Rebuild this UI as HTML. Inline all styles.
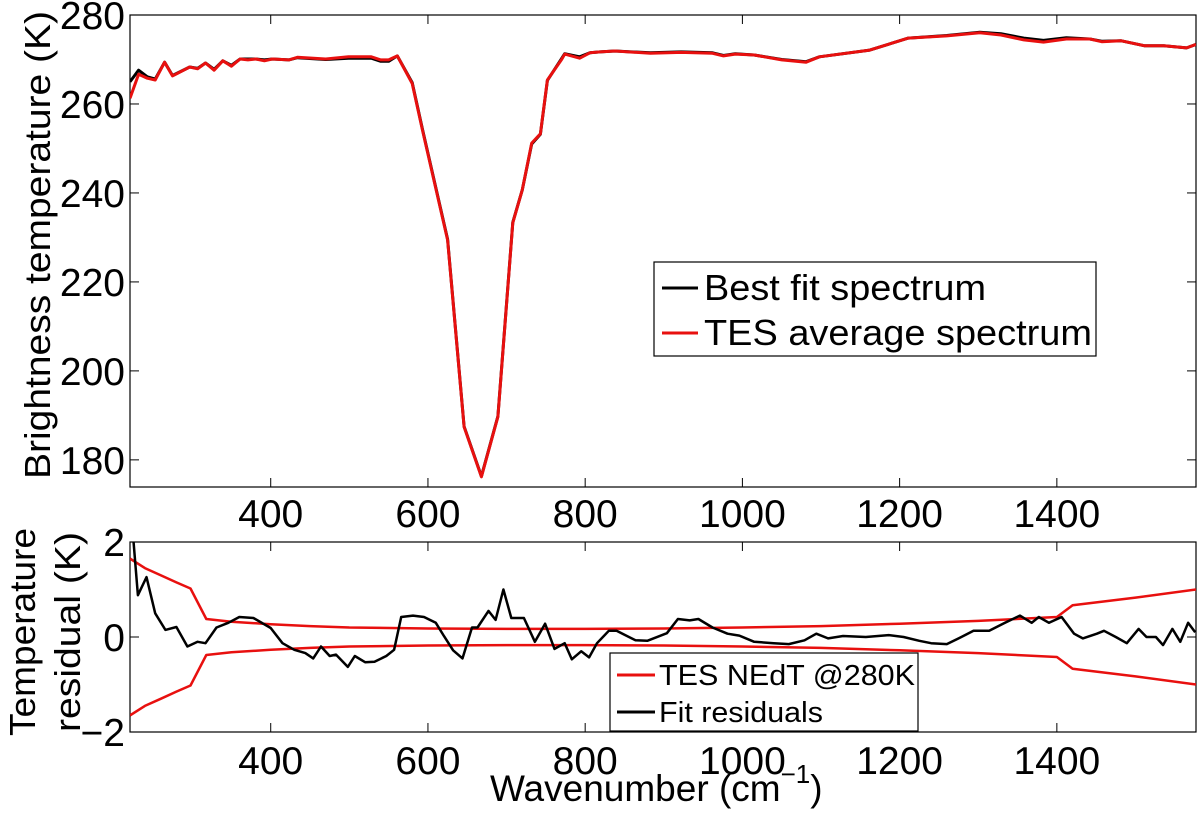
<!DOCTYPE html>
<html><head><meta charset="utf-8"><style>
html,body{margin:0;padding:0;background:#fff;}
svg{display:block;font-family:"Liberation Sans",sans-serif;}
</style></head><body>
<svg id="chart" width="1200" height="813" viewBox="0 0 1200 813"></svg>
<script>
// ---- data ----
const topWn = [221,232,243,253,265,275,297,307,317,328,339,350,361,371,381,392,402,423,434,470,499,528,540,550,561,580,593,625,646,668,689,708,720,732,743,752,770,774,793,806,819,838,883,922,962,976,991,1015,1050,1081,1098,1162,1211,1260,1302,1329,1358,1383,1412,1442,1457,1482,1511,1536,1565,1577];
const tesAvg = [261.3,266.7,265.8,265.4,269.4,266.3,268.3,267.9,269.2,267.6,269.7,268.5,270.1,269.9,270.1,269.7,270.1,269.9,270.5,270.1,270.6,270.6,269.9,269.9,270.8,264.6,254.2,229.4,187.4,176.2,189.7,233.3,240.7,251.2,253.3,265.4,270.0,271.2,270.3,271.5,271.7,271.9,271.4,271.6,271.4,270.8,271.2,271.0,269.9,269.4,270.6,272.1,274.8,275.3,276.0,275.5,274.4,273.9,274.6,274.6,274.0,274.2,273.1,273.1,272.6,273.4];
const bestFit = [265.0,267.6,266.1,265.6,269.4,266.4,268.3,268.0,269.2,267.8,269.7,268.7,270.1,270.1,270.1,269.9,270.1,269.9,270.4,270.0,270.3,270.3,269.6,269.6,270.8,264.8,254.4,229.6,187.5,176.3,189.8,233.4,240.7,251.0,253.2,265.3,270.2,271.3,270.6,271.5,271.7,271.9,271.5,271.7,271.5,270.9,271.3,271.0,270.0,269.5,270.6,272.1,274.8,275.4,276.1,275.8,274.8,274.3,274.9,274.6,274.1,274.2,273.1,273.1,272.6,273.4];
const resWn = [224,231,242,253,266,280,294,307,317,331,346,360,378,400,415,430,444,454,464,475,483,498,507,520,532,547,557,566,581,595,610,620,632,644,656,663,677,686,696,706,722,736,749,761,774,783,795,805,815,830,840,864,879,904,918,933,944,962,981,996,1015,1040,1059,1079,1094,1109,1128,1157,1186,1205,1225,1240,1260,1275,1294,1314,1334,1353,1368,1377,1390,1406,1422,1433,1451,1460,1475,1489,1504,1514,1526,1535,1547,1557,1567,1576];
const residual = [2.3,0.88,1.26,0.5,0.15,0.21,-0.2,-0.1,-0.13,0.2,0.3,0.42,0.4,0.19,-0.13,-0.27,-0.34,-0.45,-0.2,-0.4,-0.37,-0.63,-0.4,-0.53,-0.52,-0.4,-0.27,0.42,0.45,0.42,0.3,0.03,-0.28,-0.45,0.2,0.2,0.55,0.36,1.0,0.4,0.4,-0.1,0.28,-0.25,-0.13,-0.47,-0.3,-0.43,-0.13,0.13,0.13,-0.07,-0.08,0.08,0.38,0.35,0.38,0.2,0.07,0.03,-0.1,-0.13,-0.15,-0.07,0.07,-0.03,0.02,0.0,0.04,0.0,-0.08,-0.13,-0.15,-0.03,0.13,0.13,0.3,0.45,0.3,0.42,0.3,0.42,0.07,-0.03,0.07,0.13,0.0,-0.13,0.17,0.0,0.0,-0.17,0.17,-0.1,0.3,0.1];
const nedtWn = [221,240,260,280,298,318,350,400,450,500,600,700,800,900,1000,1100,1200,1300,1400,1420,1500,1577];
const nedt = [1.65,1.45,1.3,1.15,1.02,0.38,0.32,0.27,0.23,0.2,0.18,0.17,0.17,0.18,0.2,0.23,0.28,0.34,0.42,0.67,0.83,1.0];
const xTicks = [400,600,800,1000,1200,1400];
const topYTicks = [180,200,220,240,260,280];
const botYTicks = [-2,0,2];

// ---- layout ----
const L=130, R=1196;
const X0=221, X1=1577;
const T1=15, B1=487, Y1lo=173.9, Y1hi=280;
const T2=542, B2=732, Y2lo=-2, Y2hi=2;
const sx = v => L + (v-X0)/(X1-X0)*(R-L);
const sy1 = v => B1 - (v-Y1lo)/(Y1hi-Y1lo)*(B1-T1);
const sy2 = v => B2 - (v-Y2lo)/(Y2hi-Y2lo)*(B2-T2);
const NS="http://www.w3.org/2000/svg";
const svg=document.getElementById('chart');
function mk(tag, attrs, parent){const e=document.createElementNS(NS,tag);for(const k in attrs)e.setAttribute(k,attrs[k]);(parent||svg).appendChild(e);return e;}
function txt(s, attrs, parent){const e=mk('text',attrs,parent);e.textContent=s;return e;}

// clip paths
const defs=mk('defs',{});
const c1=mk('clipPath',{id:'c1'},defs);mk('rect',{x:L,y:T1,width:R-L,height:B1-T1},c1);
const c2=mk('clipPath',{id:'c2'},defs);mk('rect',{x:L,y:T2,width:R-L,height:B2-T2},c2);

// ---- top axes ----
const ax1=mk('g',{});


mk('rect',{x:L,y:T1,width:R-L,height:B1-T1,fill:'#fff',stroke:'#000','stroke-width':1.2},ax1);
xTicks.forEach(v=>{
  const x=sx(v);
  mk('line',{x1:x,y1:B1,x2:x,y2:B1-9,stroke:'#000','stroke-width':1},ax1);
  mk('line',{x1:x,y1:T1,x2:x,y2:T1+9,stroke:'#000','stroke-width':1},ax1);
  const t=txt(String(v),{x:x,y:527,'font-size':39,'text-anchor':'middle'},ax1);
  
  
});
topYTicks.forEach(v=>{
  const y=sy1(v);
  mk('line',{x1:L,y1:y,x2:L+9,y2:y,stroke:'#000','stroke-width':1},ax1);
  mk('line',{x1:R,y1:y,x2:R-9,y2:y,stroke:'#000','stroke-width':1},ax1);
  const t=txt(String(v),{x:125,y:y+14,'font-size':39,'text-anchor':'end'},ax1);
  
  
});
function poly(xs,ys,fx,fy,color,w,clip,parent){
  const p=xs.map((v,i)=>fx(v).toFixed(1)+','+fy(ys[i]).toFixed(1)).join(' ');
  return mk('polyline',{points:p,fill:'none',stroke:color,'stroke-width':w,'stroke-linejoin':'round','clip-path':'url(#'+clip+')'},parent);
}
const bf=poly(topWn,bestFit,sx,sy1,'#000',3,'c1',ax1);


const ta=poly(topWn,tesAvg,sx,sy1,'#e8100f',3,'c1',ax1);


const yl1=txt('Brightness temperature (K)',{x:0,y:0,'font-size':36,'text-anchor':'middle',transform:'translate(50,245) rotate(-90)',textLength:468,lengthAdjust:'spacingAndGlyphs'});



// legend top
const lg1=mk('g',{});


mk('rect',{x:654,y:262,width:442,height:94,fill:'#fff',stroke:'#000','stroke-width':1.2},lg1);
mk('line',{x1:662,y1:288,x2:698,y2:288,stroke:'#000','stroke-width':3},lg1);
mk('line',{x1:662,y1:333,x2:698,y2:333,stroke:'#e8100f','stroke-width':3},lg1);
const le1=txt('Best fit spectrum',{x:704,y:300,'font-size':36,textLength:282,lengthAdjust:'spacingAndGlyphs'},lg1);


const le2=txt('TES average spectrum',{x:704,y:345,'font-size':36,textLength:388,lengthAdjust:'spacingAndGlyphs'},lg1);



// ---- bottom axes ----
const ax2=mk('g',{});


mk('rect',{x:L,y:T2,width:R-L,height:B2-T2,fill:'#fff',stroke:'#000','stroke-width':1.2},ax2);
xTicks.forEach(v=>{
  const x=sx(v);
  mk('line',{x1:x,y1:B2,x2:x,y2:B2-9,stroke:'#000','stroke-width':1},ax2);
  mk('line',{x1:x,y1:T2,x2:x,y2:T2+9,stroke:'#000','stroke-width':1},ax2);
  const t=txt(String(v),{x:x,y:774,'font-size':39,'text-anchor':'middle'},ax2);
  
  
});
botYTicks.forEach(v=>{
  const y=sy2(v);
  mk('line',{x1:L,y1:y,x2:L+9,y2:y,stroke:'#000','stroke-width':1},ax2);
  mk('line',{x1:R,y1:y,x2:R-9,y2:y,stroke:'#000','stroke-width':1},ax2);
  const t=txt(v<0?'\u2212'+Math.abs(v):String(v),{x:125,y:y+14,'font-size':39,'text-anchor':'end'},ax2);
  
  
});
const np=poly(nedtWn,nedt,sx,sy2,'#e8100f',2.5,'c2',ax2);


const nm=poly(nedtWn,nedt.map(v=>-v),sx,sy2,'#e8100f',2.5,'c2',ax2);


const rl=poly(resWn,residual,sx,sy2,'#000',2.5,'c2',ax2);



const yl2a=txt('Temperature',{x:0,y:0,'font-size':36,'text-anchor':'middle',transform:'translate(35,632) rotate(-90)',textLength:208,lengthAdjust:'spacingAndGlyphs'});


const yl2b=txt('residual (K)',{x:0,y:0,'font-size':36,'text-anchor':'middle',transform:'translate(80,632) rotate(-90)',textLength:200,lengthAdjust:'spacingAndGlyphs'});



// legend bottom
const lg2=mk('g',{});


mk('rect',{x:610,y:653,width:308,height:78,fill:'#fff',stroke:'#000','stroke-width':1.2},lg2);
mk('line',{x1:617,y1:675,x2:655,y2:675,stroke:'#e8100f','stroke-width':3},lg2);
mk('line',{x1:617,y1:712,x2:655,y2:712,stroke:'#000','stroke-width':3},lg2);
const le3=txt('TES NEdT @280K',{x:659,y:685,'font-size':29,textLength:256,lengthAdjust:'spacingAndGlyphs'},lg2);


const le4=txt('Fit residuals',{x:659,y:722,'font-size':29,textLength:164,lengthAdjust:'spacingAndGlyphs'},lg2);



// x label
const xl=mk('text',{x:490,y:801,'font-size':37});


const s1=mk('tspan',{},xl);s1.textContent='Wavenumber (cm';
const s2=mk('tspan',{dy:-18,'font-size':26},xl);s2.textContent='\u22121';
const s3=mk('tspan',{dy:18},xl);s3.textContent=')';
</script>
</body></html>
